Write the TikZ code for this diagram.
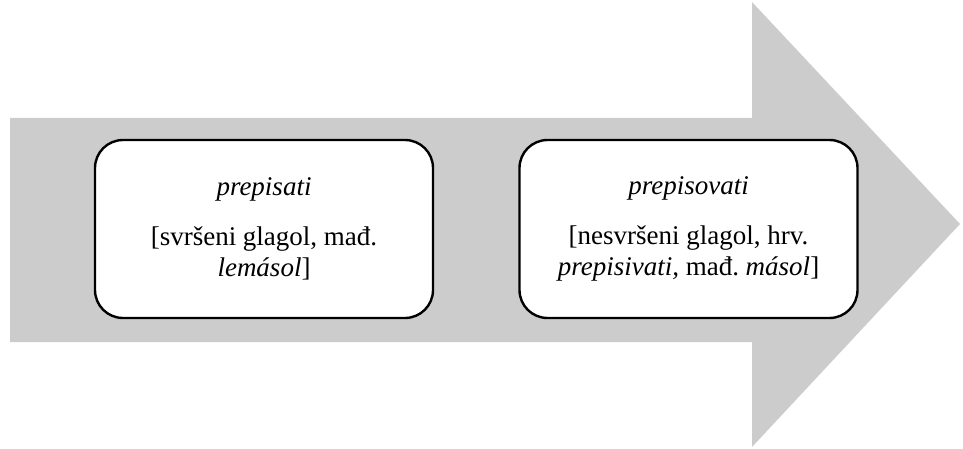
\documentclass[tikz,border=0pt]{standalone}
\usepackage{fontspec}
\setmainfont{Liberation Serif}
\frenchspacing
\definecolor{arrowgray}{HTML}{CCCCCC}
\begin{document}
\begin{tikzpicture}[x=1pt,y=-1pt,
  box/.style={draw=black, line width=2.4pt, fill=white, rounded corners=28pt,
    minimum width=338pt, minimum height=178pt, inner sep=0pt,
    align=center, font=\fontsize{27}{31}\selectfont},
  bigarrow/.style={fill=arrowgray, draw=none}]
\useasboundingbox (0,0) rectangle (963,449);
\begin{scope}
\clip (0,0) rectangle (963,449);
\fill[bigarrow] (10,118) -- (752,118) -- (752,2) -- (960,224) -- (752,447) -- (752,342) -- (10,342) -- cycle;
\end{scope}
\node[box] (a) at (264,229) {\textit{prepisati}\\[19pt][svršeni glagol, mađ.\\\textit{lemásol}]};
\node[box] (b) at (688.5,229) {\textit{prepisovati}\\[19pt][nesvršeni glagol, hrv.\\\textit{prepisivati,} mađ. \textit{másol}]};
\end{tikzpicture}
\end{document}
